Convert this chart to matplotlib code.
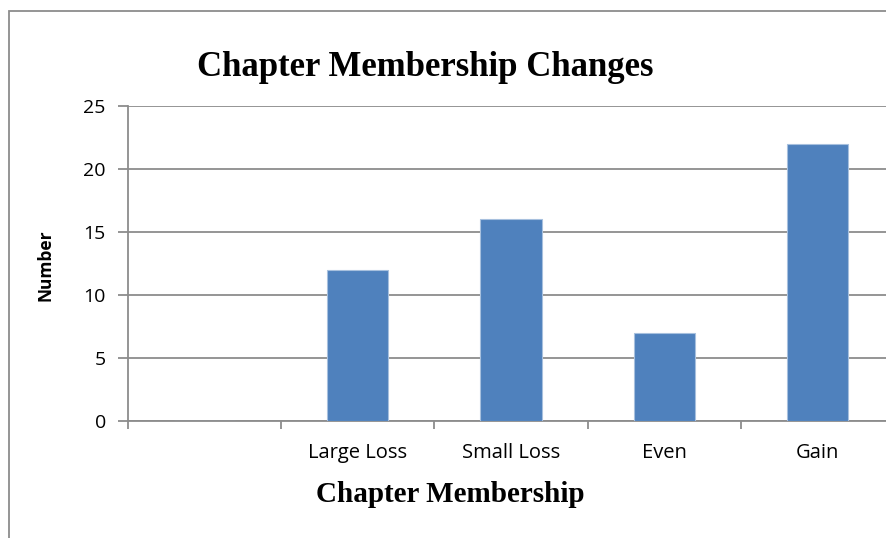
import matplotlib
matplotlib.use("Agg")
import matplotlib.pyplot as plt
from matplotlib.patches import Rectangle

categories = ["", "Large Loss", "Small Loss", "Even", "Gain"]
values = [0, 12, 16, 7, 22]
yticks = [0, 5, 10, 15, 20, 25]

W, H = 886, 538
fig = plt.figure(figsize=(W / 100, H / 100), dpi=100)
fig.patch.set_facecolor("white")

# outer chart frame (only left/top visible)
fig.add_artist(Rectangle((9 / W, 1 - 1400 / H), 1500 / W, (1400 - 11) / H,
                         transform=fig.transFigure, fill=False,
                         edgecolor="#8c8c8c", linewidth=1.3))

left, right = 128, 894
top, bottom = 106, 421
ax = fig.add_axes([left / W, 1 - bottom / H, (right - left) / W, (bottom - top) / H])

x = list(range(len(categories)))
ax.bar(x, values, width=0.4, color="#4F81BD", edgecolor="#A7C0DE", linewidth=0.8, zorder=3)

ax.set_xlim(-0.5, len(categories) - 0.5)
ax.set_ylim(0, 25)
ax.set_yticks(yticks)
ax.yaxis.grid(True, color="#8c8c8c", linewidth=1.3, zorder=0)
ax.set_axisbelow(True)

for s in ["top", "right"]:
    ax.spines[s].set_visible(False)
for s in ["left", "bottom"]:
    ax.spines[s].set_color("#8c8c8c")
    ax.spines[s].set_linewidth(1.3)

ax.set_xticks([i + 0.5 for i in range(-1, len(categories))])
ax.set_xticklabels([])
ax.tick_params(axis="x", length=6, width=1.3, color="#8c8c8c", direction="out")
ax.tick_params(axis="y", length=7, width=1.3, color="#8c8c8c", direction="out",
               labelsize=14, pad=9)
for lab in ax.get_yticklabels():
    lab.set_fontfamily("Open Sans")

for i, c in enumerate(categories):
    ax.text(i, -2.55, c, ha="center", va="center", fontsize=14.5, family="Open Sans",
            transform=ax.transData, clip_on=False)

fig.text(425 / W, 1 - 68 / H, "Chapter Membership Changes", ha="center", va="center",
         fontsize=25, fontweight="bold", family="Liberation Serif")
fig.text(450 / W, 1 - 494 / H, "Chapter Membership", ha="center", va="center",
         fontsize=21, fontweight="bold", family="Liberation Serif")
fig.text(46 / W, 1 - 265 / H, "Number", ha="center", va="center", rotation=90,
         fontsize=12.5, fontweight="bold", family="Open Sans")

fig.savefig("out.png", dpi=100)
